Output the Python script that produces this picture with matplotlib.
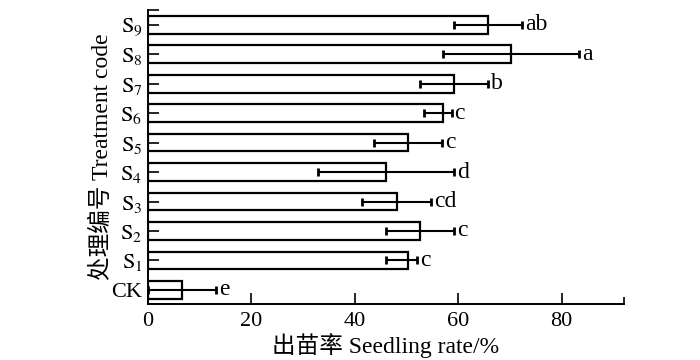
import matplotlib
matplotlib.use('Agg')
import matplotlib.pyplot as plt
import numpy as np

plt.rcParams['font.family'] = ['Liberation Serif', 'Noto Sans CJK SC']
plt.rcParams['mathtext.fontset'] = 'stix'

# data (bottom to top)
codes = ['CK', 'S1', 'S2', 'S3', 'S4', 'S5', 'S6', 'S7', 'S8', 'S9']
rate = [6.5, 50.3, 52.7, 48.2, 46.1, 50.3, 57.0, 59.2, 70.3, 65.8]
err_low = [6.5, 4.3, 6.7, 6.8, 13.2, 6.5, 3.7, 6.5, 13.3, 6.6]
err_high = [6.6, 1.8, 6.5, 6.6, 13.1, 6.6, 1.7, 6.6, 13.1, 6.5]
letters = ['e', 'c', 'c', 'cd', 'd', 'c', 'c', 'b', 'a', 'ab']

tick_labels = ['CK'] + [r'$\mathrm{S}_{%s}$' % c[1:] for c in codes[1:]]

fig = plt.figure(figsize=(7, 3.6), dpi=100)
ax = fig.add_axes([0.2114, 0.1556, 0.891 - 0.2114, 0.972 - 0.1556])

y = np.arange(len(codes))
ax.barh(y, rate, height=0.6, color='white', edgecolor='black', linewidth=1.6)
ax.errorbar(rate, y, xerr=[err_low, err_high], fmt='none', ecolor='black',
            elinewidth=1.5, capsize=2.8, capthick=2)

for i in range(len(codes)):
    ax.text(rate[i] + err_high[i] + 0.6, y[i], letters[i], fontsize=17,
            va='center', ha='left')

ax.set_xlim(0, 92)
ax.set_ylim(-0.48, 9.5)
ax.set_xticks([0, 20, 40, 60, 80])
ax.set_xticks([92], minor=True)
ax.set_yticks(y)
ax.set_yticks([9.5], minor=True)
ax.set_yticklabels(tick_labels)
ax.tick_params(axis='both', which='both', direction='in', labelsize=16,
               width=1.2, length=8)
ax.tick_params(axis='x', which='minor', length=5)
ax.tick_params(axis='y', pad=4)
ax.tick_params(axis='x', pad=6)

for s in ['top', 'right']:
    ax.spines[s].set_visible(False)
for s in ['left', 'bottom']:
    ax.spines[s].set_linewidth(1.4)

ax.set_xlabel('出苗率 Seedling rate/%', fontsize=17, labelpad=1)
ax.set_ylabel('处理编号 Treatment code', fontsize=17, labelpad=-1)

fig.savefig('out.png', dpi=100)
